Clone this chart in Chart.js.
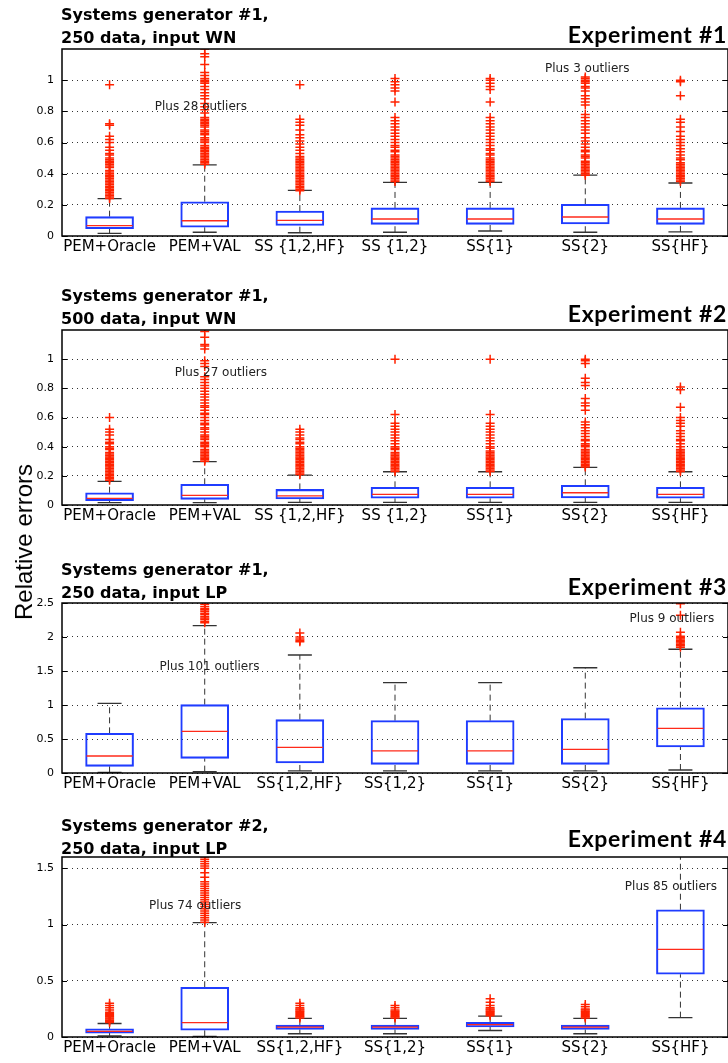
<!DOCTYPE html>
<html>
<head>
<meta charset="utf-8">
<script src="https://cdn.jsdelivr.net/npm/chart.js@4.4.1/dist/chart.umd.min.js"></script>
<style>
  html, body { margin: 0; padding: 0; background: #fff; }
  #page { position: relative; width: 728px; height: 1063px; overflow: hidden; }
  canvas { position: absolute; left: 0; }
  .title { position: absolute; left: 61px; font: bold 16px "DejaVu Sans"; line-height: 23px; color: #000; white-space: nowrap; }
  .exp { position: absolute; right: 1px; font: bold 23px Lato; letter-spacing: 0.7px; line-height: 28px; color: #000; white-space: nowrap; }
  #ylab { position: absolute; left: 23.5px; top: 542px; font: 24px "Liberation Sans"; line-height: 24px; color: #000;
          transform: translate(-50%, -50%) rotate(-90deg); white-space: nowrap; }
</style>
</head>
<body>
<div id="page">
  <canvas id="c1" width="728" height="223" style="top:39px"></canvas>
  <canvas id="c2" width="728" height="211" style="top:320px"></canvas>
  <canvas id="c3" width="728" height="206" style="top:593px"></canvas>
  <canvas id="c4" width="728" height="216" style="top:847px"></canvas>

  <div class="title" style="top:3px">Systems generator #1,<br>250 data, input WN</div>
  <div class="exp" style="top:20px">Experiment #1</div>
  <div class="title" style="top:284px">Systems generator #1,<br>500 data, input WN</div>
  <div class="exp" style="top:299px">Experiment #2</div>
  <div class="title" style="top:558px">Systems generator #1,<br>250 data, input LP</div>
  <div class="exp" style="top:572px">Experiment #3</div>
  <div class="title" style="top:814px">Systems generator #2,<br>250 data, input LP</div>
  <div class="exp" style="top:824px">Experiment #4</div>
  <div id="ylab">Relative errors</div>
</div>
<script>
// categories
const catsWN = ['PEM+Oracle', 'PEM+VAL', 'SS {1,2,HF}', 'SS {1,2}', 'SS{1}', 'SS{2}', 'SS{HF}'];
const catsLP = ['PEM+Oracle', 'PEM+VAL', 'SS{1,2,HF}', 'SS{1,2}', 'SS{1}', 'SS{2}', 'SS{HF}'];

// experiment 1
const q1Exp1  = [0.047, 0.056, 0.068, 0.075, 0.075, 0.077, 0.075];
const medExp1 = [0.066, 0.098, 0.100, 0.109, 0.109, 0.122, 0.109];
const q3Exp1  = [0.124, 0.220, 0.160, 0.180, 0.180, 0.203, 0.180];
const loExp1  = [0.017, 0.024, 0.021, 0.024, 0.032, 0.024, 0.026];
const hiExp1  = [0.240, 0.457, 0.293, 0.344, 0.344, 0.391, 0.340];
const outExp1 = [
  [0.24,0.25,0.26,0.27,0.28,0.29,0.30,0.31,0.32,0.33,0.34,0.35,0.36,0.37,0.38,0.39,0.40,0.41,0.42,0.44,0.45,0.46,0.47,0.48,0.49,0.50,0.52,0.53,0.55,0.57,0.60,0.62,0.64,0.71,0.72,0.97],
  [0.46,0.47,0.48,0.49,0.50,0.51,0.52,0.53,0.54,0.55,0.56,0.57,0.58,0.60,0.61,0.62,0.63,0.65,0.66,0.67,0.68,0.70,0.71,0.72,0.73,0.74,0.75,0.76,0.79,0.81,0.83,0.85,0.88,0.90,0.92,0.94,0.96,0.98,0.99,1.00,1.01,1.03,1.05,1.10,1.15,1.17,1.20],
  [0.29,0.30,0.31,0.32,0.33,0.34,0.35,0.36,0.37,0.38,0.39,0.40,0.41,0.42,0.43,0.44,0.45,0.46,0.47,0.48,0.49,0.50,0.51,0.53,0.55,0.57,0.59,0.61,0.63,0.65,0.68,0.71,0.73,0.75,0.97],
  [0.35,0.36,0.37,0.38,0.39,0.40,0.41,0.42,0.43,0.44,0.45,0.46,0.47,0.48,0.49,0.50,0.51,0.52,0.54,0.55,0.57,0.58,0.60,0.62,0.64,0.66,0.68,0.70,0.72,0.74,0.76,0.86,0.93,0.95,0.97,0.99,1.01],
  [0.35,0.36,0.37,0.38,0.39,0.40,0.41,0.42,0.43,0.44,0.45,0.46,0.47,0.48,0.49,0.50,0.52,0.53,0.55,0.56,0.58,0.60,0.62,0.64,0.66,0.68,0.70,0.72,0.74,0.76,0.86,0.94,0.96,0.98,1.00,1.01],
  [0.39,0.40,0.41,0.42,0.43,0.44,0.45,0.46,0.47,0.48,0.50,0.51,0.52,0.54,0.55,0.57,0.59,0.61,0.63,0.66,0.68,0.70,0.72,0.74,0.76,0.78,0.84,0.86,0.88,0.90,0.93,0.95,0.96,0.98,0.99,1.00,1.01,1.02],
  [0.35,0.36,0.37,0.38,0.39,0.40,0.41,0.42,0.43,0.44,0.45,0.46,0.47,0.49,0.50,0.52,0.54,0.56,0.58,0.60,0.62,0.64,0.67,0.70,0.73,0.75,0.90,0.99,1.00]
];

// experiment 2
const q1Exp2  = [0.030, 0.039, 0.041, 0.046, 0.046, 0.048, 0.046];
const medExp2 = [0.046, 0.066, 0.062, 0.073, 0.073, 0.084, 0.073];
const q3Exp2  = [0.084, 0.142, 0.107, 0.121, 0.121, 0.135, 0.121];
const loExp2  = [0.016, 0.016, 0.018, 0.018, 0.018, 0.018, 0.018];
const hiExp2  = [0.162, 0.297, 0.205, 0.228, 0.228, 0.258, 0.228];
const outExp2 = [
  [0.17,0.18,0.19,0.20,0.21,0.22,0.23,0.24,0.25,0.26,0.27,0.28,0.29,0.30,0.31,0.32,0.33,0.34,0.35,0.36,0.38,0.39,0.40,0.42,0.43,0.45,0.48,0.50,0.52,0.60],
  [0.30,0.31,0.32,0.33,0.34,0.35,0.36,0.37,0.38,0.40,0.41,0.42,0.43,0.45,0.46,0.47,0.48,0.50,0.52,0.53,0.55,0.56,0.58,0.60,0.62,0.63,0.65,0.67,0.68,0.70,0.72,0.74,0.76,0.78,0.80,0.82,0.84,0.86,0.88,0.95,0.97,0.99,1.07,1.09,1.10,1.15,1.19],
  [0.21,0.22,0.23,0.24,0.25,0.26,0.27,0.28,0.29,0.30,0.31,0.32,0.33,0.34,0.35,0.36,0.37,0.38,0.39,0.40,0.42,0.43,0.45,0.46,0.48,0.50,0.52],
  [0.23,0.24,0.25,0.26,0.27,0.28,0.29,0.30,0.31,0.32,0.33,0.34,0.35,0.36,0.38,0.39,0.40,0.42,0.44,0.46,0.48,0.50,0.52,0.54,0.56,0.62,1.00],
  [0.23,0.24,0.25,0.26,0.27,0.28,0.29,0.30,0.31,0.32,0.33,0.34,0.35,0.36,0.37,0.39,0.40,0.42,0.44,0.46,0.48,0.50,0.52,0.54,0.56,0.62,1.00],
  [0.26,0.27,0.28,0.29,0.30,0.31,0.32,0.33,0.34,0.35,0.36,0.37,0.38,0.40,0.41,0.42,0.44,0.45,0.47,0.49,0.51,0.53,0.55,0.57,0.65,0.68,0.70,0.73,0.82,0.84,0.87,0.97,0.99,1.00],
  [0.23,0.24,0.25,0.26,0.27,0.28,0.29,0.30,0.31,0.32,0.33,0.34,0.35,0.36,0.37,0.38,0.40,0.42,0.44,0.45,0.47,0.49,0.51,0.54,0.56,0.58,0.60,0.67,0.79,0.81]
];

// experiment 3
const q1Exp3  = [0.098, 0.216, 0.147, 0.128, 0.128, 0.128, 0.382];
const medExp3 = [0.250, 0.613, 0.378, 0.324, 0.324, 0.348, 0.657];
const q3Exp3  = [0.583, 1.005, 0.784, 0.770, 0.770, 0.800, 0.960];
const loExp3  = [0.010, 0.020, 0.030, 0.030, 0.030, 0.030, 0.044];
const hiExp3  = [1.025, 2.166, 1.735, 1.328, 1.328, 1.548, 1.820];
const outExp3 = [
  [],
  [2.21,2.23,2.26,2.28,2.30,2.33,2.35,2.38,2.40,2.42,2.45,2.48,2.51],
  [1.93,1.95,1.97,2.00,2.06],
  [],
  [],
  [],
  [1.85,1.87,1.89,1.91,1.93,1.95,1.97,1.99,2.01,2.07,2.32,2.49]
];

// experiment 4
const q1Exp4  = [0.035, 0.061, 0.067, 0.067, 0.090, 0.067, 0.558];
const medExp4 = [0.050, 0.128, 0.087, 0.087, 0.110, 0.087, 0.779];
const q3Exp4  = [0.073, 0.442, 0.105, 0.105, 0.131, 0.105, 1.131];
const loExp4  = [0.010, 0.006, 0.029, 0.029, 0.058, 0.029, 0.172];
const hiExp4  = [0.120, 1.017, 0.166, 0.166, 0.186, 0.166, 1.750];
const outExp4 = [
  [0.13,0.14,0.15,0.16,0.17,0.18,0.19,0.20,0.21,0.22,0.24,0.26,0.28,0.30],
  [1.02,1.04,1.06,1.08,1.10,1.12,1.14,1.16,1.18,1.20,1.22,1.24,1.26,1.28,1.30,1.32,1.34,1.36,1.38,1.42,1.46,1.50,1.52,1.54,1.56,1.58,1.60],
  [0.17,0.18,0.19,0.20,0.21,0.22,0.23,0.24,0.25,0.26,0.28,0.30],
  [0.17,0.18,0.19,0.20,0.21,0.22,0.23,0.24,0.26,0.28],
  [0.19,0.20,0.21,0.22,0.23,0.24,0.25,0.26,0.28,0.31,0.34],
  [0.17,0.18,0.19,0.20,0.21,0.22,0.23,0.24,0.25,0.27,0.29],
  []
];

// y axes
const yTicksExp1 = [0, 0.2, 0.4, 0.6, 0.8, 1];
const yTicksExp2 = [0, 0.2, 0.4, 0.6, 0.8, 1];
const yTicksExp3 = [0, 0.5, 1, 1.5, 2, 2.5];
const yTicksExp4 = [0, 0.5, 1, 1.5];

// frame, inner tick marks and "Plus N outliers" notes
const framePlugin = {
  id: 'frame',
  afterDatasetsDraw(chart, args, opts) {
    const { ctx, chartArea: a, scales: { x, y } } = chart;
    ctx.save();
    ctx.strokeStyle = '#000';
    ctx.lineWidth = 1;
    y.ticks.forEach(t => {
      const py = Math.round(y.getPixelForValue(t.value)) + 0.5;
      ctx.beginPath();
      ctx.moveTo(a.left, py); ctx.lineTo(a.left + 5, py);
      ctx.moveTo(a.right - 5, py); ctx.lineTo(a.right, py);
      ctx.stroke();
    });
    ctx.lineWidth = 1.5;
    ctx.strokeRect(a.left, a.top, a.right - a.left, a.bottom - a.top);
    ctx.fillStyle = '#222';
    ctx.font = '12px "DejaVu Sans"';
    ctx.textAlign = 'center';
    ctx.textBaseline = 'middle';
    (opts.notes || []).forEach(n => {
      ctx.fillText(n.text, x.getPixelForValue(n.at), y.getPixelForValue(n.value));
    });
    ctx.restore();
  }
};

function boxChart(id, labels, q1, med, q3, lo, hi, out, yMax, yTicks, notes) {
  const whiskers = [];
  const caps = [];
  const outliers = [];
  labels.forEach((l, i) => {
    whiskers.push({ x: l, y: q3[i] }, { x: l, y: hi[i] }, { x: l, y: null });
    whiskers.push({ x: l, y: lo[i] }, { x: l, y: q1[i] }, { x: l, y: null });
    caps.push({ x: l, y: hi[i] }, { x: l, y: lo[i] });
    out[i].forEach(v => outliers.push({ x: l, y: v }));
  });

  return new Chart(document.getElementById(id), {
    type: 'bar',
    data: {
      labels: labels,
      datasets: [
        {
          type: 'line', data: med.map((v, i) => ({ x: labels[i], y: v })),
          showLine: false, pointStyle: 'line', pointRadius: 23,
          pointBorderColor: '#ff2a1a', pointBorderWidth: 1.3, order: 1
        },
        {
          type: 'line', data: outliers, showLine: false,
          pointStyle: 'cross', pointRadius: 4.5,
          pointBorderColor: '#ff2200', pointBorderWidth: 1.5, order: 2
        },
        {
          data: q1.map((v, i) => [v, q3[i]]),
          backgroundColor: 'rgba(255,255,255,0)', borderColor: '#1f3cff',
          borderWidth: 1.4, borderSkipped: false, barThickness: 48, order: 3
        },
        {
          type: 'line', data: caps, showLine: false, pointStyle: 'line', pointRadius: 12,
          pointBorderColor: '#333', pointBorderWidth: 1.3, order: 4
        },
        {
          type: 'line', data: whiskers, pointRadius: 0, borderColor: '#333',
          borderWidth: 1, borderDash: [6, 4], spanGaps: false, order: 5
        }
      ]
    },
    options: {
      responsive: false,
      animation: false,
      events: [],
      layout: { autoPadding: false, padding: { top: 10, right: 0, left: 0, bottom: 0 } },
      plugins: {
        legend: { display: false },
        tooltip: { enabled: false },
        frame: { notes: notes }
      },
      scales: {
        x: {
          offset: true,
          grid: { display: false, drawTicks: false },
          border: { display: false },
          ticks: {
            autoSkip: false, maxRotation: 0, minRotation: 0, padding: 2,
            color: '#000', font: { family: 'DejaVu Sans', size: 15 }
          },
          afterFit: s => { s.height = 26; s.paddingLeft = 0; s.paddingRight = 0; }
        },
        y: {
          min: 0, max: yMax,
          grid: { color: '#333', lineWidth: 1, drawTicks: false },
          border: { display: false, dash: [1, 4] },
          ticks: {
            padding: 8, color: '#000', font: { family: 'DejaVu Sans', size: 11 },
            callback: v => String(v)
          },
          afterBuildTicks: s => { s.ticks = yTicks.map(v => ({ value: v })); },
          afterFit: s => { s.width = 62; s.paddingTop = 0; s.paddingBottom = 0; }
        }
      }
    },
    plugins: [framePlugin]
  });
}

boxChart('c1', catsWN, q1Exp1, medExp1, q3Exp1, loExp1, hiExp1, outExp1, 1.2, yTicksExp1,
  [{ text: 'Plus 28 outliers', at: 0.96, value: 0.827 }, { text: 'Plus 3 outliers', at: 5.02, value: 1.07 }]);
boxChart('c2', catsWN, q1Exp2, medExp2, q3Exp2, loExp2, hiExp2, outExp2, 1.2, yTicksExp2,
  [{ text: 'Plus 27 outliers', at: 1.17, value: 0.906 }]);
boxChart('c3', catsLP, q1Exp3, medExp3, q3Exp3, loExp3, hiExp3, outExp3, 2.5, yTicksExp3,
  [{ text: 'Plus 101 outliers', at: 1.05, value: 1.554 }, { text: 'Plus 9 outliers', at: 5.91, value: 2.26 }]);
boxChart('c4', catsLP, q1Exp4, medExp4, q3Exp4, loExp4, hiExp4, outExp4, 1.6, yTicksExp4,
  [{ text: 'Plus 74 outliers', at: 0.9, value: 1.162 }, { text: 'Plus 85 outliers', at: 5.9, value: 1.337 }]);
</script>
</body>
</html>
